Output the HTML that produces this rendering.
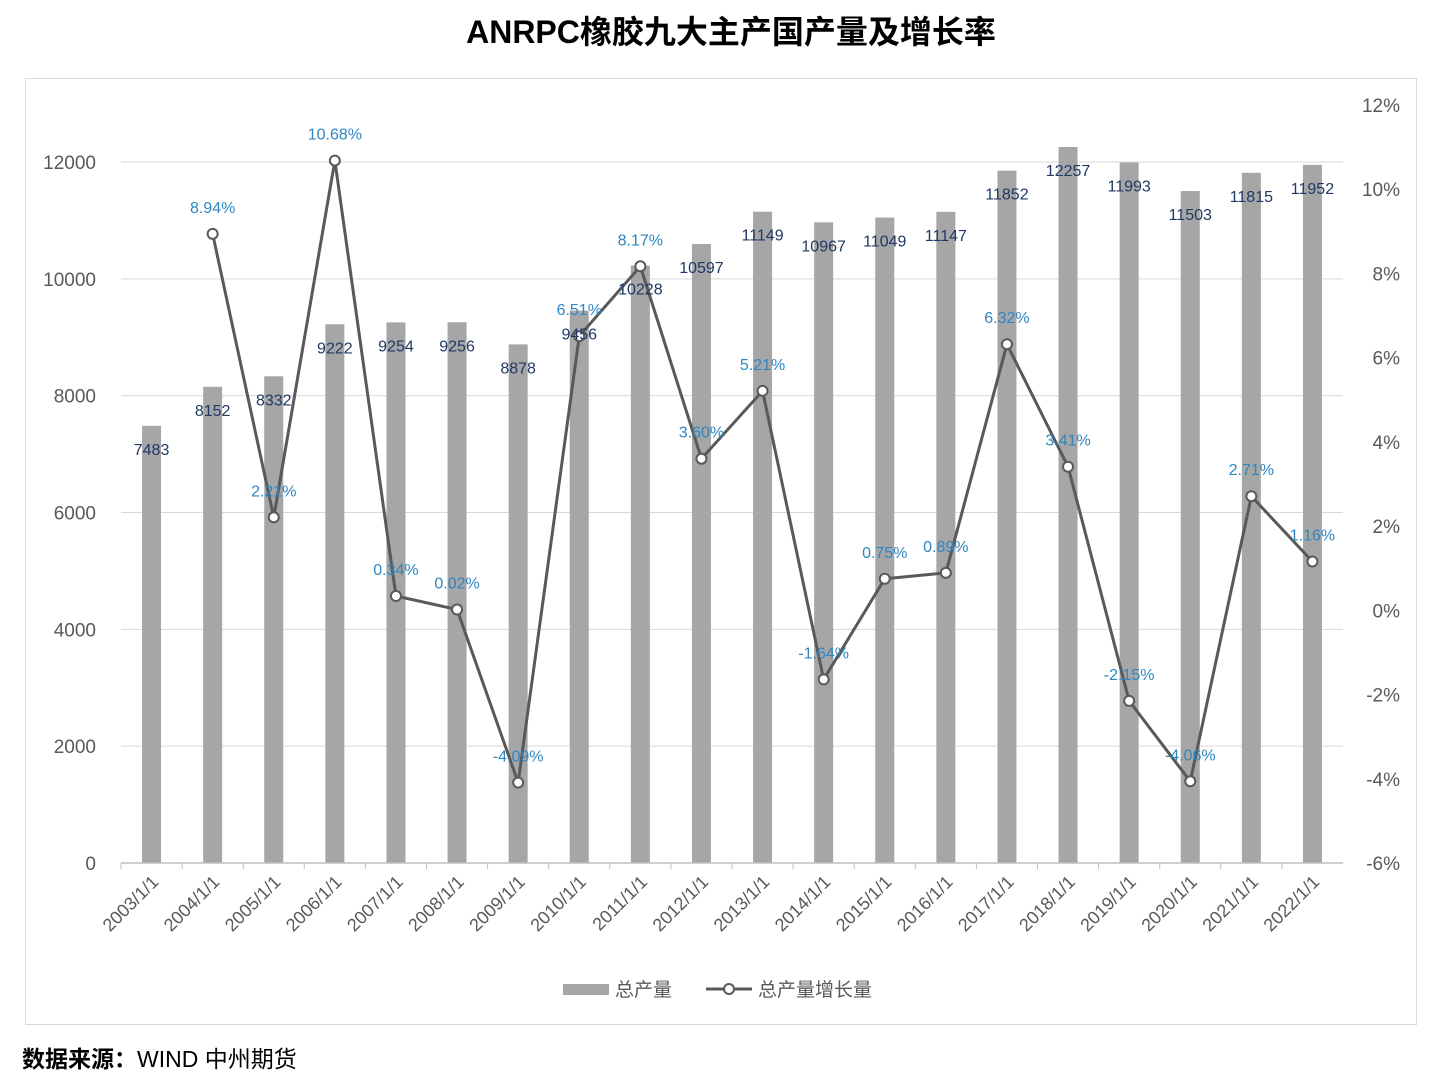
<!DOCTYPE html>
<html><head><meta charset="utf-8"><style>
body{margin:0;background:#fff;width:1446px;height:1080px;overflow:hidden;font-family:"Liberation Sans","Noto Sans CJK SC",sans-serif}
</style></head><body>
<svg width="1446" height="1080" xmlns="http://www.w3.org/2000/svg" font-family="Liberation Sans, Noto Sans CJK SC, sans-serif">
<text x="731" y="43" text-anchor="middle" font-size="32" font-weight="bold" fill="#000">ANRPC橡胶九大主产国产量及增长率</text>
<rect x="25.5" y="78.5" width="1391" height="946" fill="#fff" stroke="#d9d9d9"/>
<g id="grid"></g><g id="bars"></g><g id="line"></g><g id="labels"></g><g id="axes"></g>
<g>
<rect x="563" y="984" width="46" height="11" fill="#a6a6a6"/>
<text x="615" y="996" font-size="19" fill="#595959">总产量</text>
<line x1="706" y1="989" x2="752" y2="989" stroke="#595959" stroke-width="3"/>
<circle cx="729" cy="989" r="5" fill="#fff" stroke="#595959" stroke-width="2"/>
<text x="758" y="996" font-size="19" fill="#595959">总产量增长量</text>
</g>
<text x="22" y="1067" font-size="23" fill="#000"><tspan font-weight="bold">数据来源：</tspan>WIND  中州期货</text>
</svg>
<script>
const years=["2003/1/1","2004/1/1","2005/1/1","2006/1/1","2007/1/1","2008/1/1","2009/1/1","2010/1/1","2011/1/1","2012/1/1","2013/1/1","2014/1/1","2015/1/1","2016/1/1","2017/1/1","2018/1/1","2019/1/1","2020/1/1","2021/1/1","2022/1/1"];
const output=[7483,8152,8332,9222,9254,9256,8878,9456,10228,10597,11149,10967,11049,11147,11852,12257,11993,11503,11815,11952];
const growth=[null,8.94,2.21,10.68,0.34,0.02,-4.09,6.51,8.17,3.60,5.21,-1.64,0.75,0.89,6.32,3.41,-2.15,-4.06,2.71,1.16];
const leftTicks=[0,2000,4000,6000,8000,10000,12000];
const rightTicks=[-6,-4,-2,0,2,4,6,8,10,12];
const NS="http://www.w3.org/2000/svg";
const x0=121,x1=1343,y0=863;
const step=(x1-x0)/years.length;
const xs=i=>x0+step*(i+0.5);
const yL=v=>y0-v*(701/12000);
const yR=v=>y0-(v+6)*(758/18);
function mk(parent,tag,attrs,text){const e=document.createElementNS(NS,tag);for(const k in attrs)e.setAttribute(k,attrs[k]);if(text!=null)e.textContent=text;document.getElementById(parent).appendChild(e);return e;}
leftTicks.forEach(t=>{
 if(t>0){const g=mk('grid','line',{x1:x0,x2:x1,y1:yL(t),y2:yL(t),stroke:'#d9d9d9','stroke-width':1});
 
 }
 const l=mk('axes','text',{x:96,y:yL(t)+7,'text-anchor':'end','font-size':19,fill:'#595959'},t);
 
 
});
rightTicks.forEach(t=>{
 const l=mk('axes','text',{x:1400,y:yR(t)+7,'text-anchor':'end','font-size':19,fill:'#595959'},t+'%');
 
 
});
const ax=mk('axes','line',{x1:x0,x2:x1,y1:y0,y2:y0,stroke:'#bfbfbf','stroke-width':1.5});


years.forEach((y,i)=>{
 const tk=mk('axes','line',{x1:x0+step*i,x2:x0+step*i,y1:y0,y2:y0+6,stroke:'#bfbfbf'});
 
 
 const cx=xs(i)+8,cy=y0+20;
 const l=mk('axes','text',{x:cx,y:cy,'text-anchor':'end','font-size':18,fill:'#595959',transform:`rotate(-45 ${cx} ${cy})`},y);
 
 
});
output.forEach((v,i)=>{
 const b=mk('bars','rect',{x:xs(i)-9.5,y:yL(v),width:19,height:y0-yL(v),fill:'#a6a6a6'});
 
 
 const l=mk('labels','text',{x:xs(i),y:yL(v)+29,'text-anchor':'middle','font-size':16,fill:'#1f3864'},v);
 
 
});
let d='';
growth.forEach((g,i)=>{if(g==null)return;d+=(d?'L':'M')+xs(i)+' '+yR(g);});
const p=mk('line','path',{d:d,fill:'none',stroke:'#595959','stroke-width':3});


growth.forEach((g,i)=>{if(g==null)return;
 const c=mk('line','circle',{cx:xs(i),cy:yR(g),r:5,fill:'#fff',stroke:'#595959','stroke-width':2});
 
 
 const l=mk('labels','text',{x:xs(i),y:yR(g)-21,'text-anchor':'middle','font-size':16,fill:'#2e86c1'},g.toFixed(2)+'%');
 
 
});
</script>
</body></html>
